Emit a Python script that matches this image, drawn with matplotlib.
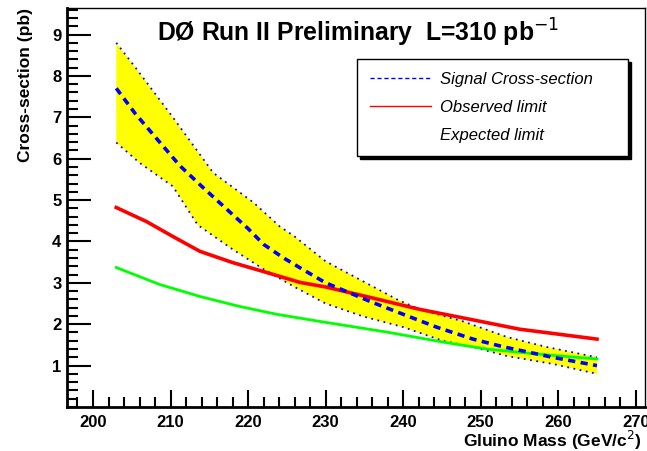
import matplotlib
matplotlib.use('Agg')
import matplotlib.pyplot as plt
from matplotlib.lines import Line2D
from matplotlib.ticker import MultipleLocator

plt.rcParams['font.family'] = ['Liberation Sans', 'DejaVu Sans']

# Signal cross-section and its uncertainty band
sig_mass = [203, 205.4, 208, 211.2, 214.2, 217.3, 220, 222, 224.5, 227, 230,
            236, 240, 244.3, 249, 253, 259.3, 265]
sig_xsec = [7.7, 7.1, 6.53, 5.83, 5.3, 4.77, 4.31, 3.93, 3.61, 3.33, 3.0,
            2.53, 2.24, 1.93, 1.64, 1.45, 1.2, 1.0]

band_mass = [203, 205.4, 210.3, 215.5, 220.7, 224.1, 226, 230, 234.8, 239.2,
             242.1, 247.7, 253.4, 258.5, 265]
band_upper = [8.8, 8.22, 7.0, 5.66, 4.94, 4.36, 4.12, 3.52, 3.04, 2.6,
              2.36, 2.07, 1.69, 1.45, 1.2]

low_mass = [203, 206, 210.3, 213.5, 218, 222, 225.8, 230, 234.8, 240, 245.1,
            249, 253.4, 259.3, 265]
band_lower = [6.39, 5.9, 5.33, 4.4, 3.81, 3.33, 2.92, 2.5, 2.19, 1.93, 1.6,
              1.45, 1.23, 1.04, 0.8]

# Observed and expected limits
obs_mass = [203, 206.9, 210.3, 213.8, 218, 222.4, 226.7, 230, 235.7, 242.1,
            248.6, 255, 265]
obs_limit = [4.82, 4.48, 4.12, 3.76, 3.49, 3.25, 3.01, 2.9, 2.65, 2.36,
             2.12, 1.88, 1.64]

exp_mass = [203, 208.6, 213.8, 218.9, 223.7, 229.5, 237.9, 245.1, 250.8,
            257.2, 265]
exp_limit = [3.37, 2.96, 2.67, 2.43, 2.24, 2.06, 1.81, 1.57, 1.4, 1.28, 1.16]

fig = plt.figure(figsize=(6.47, 4.51), dpi=100)
ax = fig.add_axes([0.1036, 0.0976, 0.8934, 0.8846])

# yellow band: polygon from upper edge and reversed lower edge
poly_x = band_mass + low_mass[::-1]
poly_y = band_upper + band_lower[::-1]
ax.fill(poly_x, poly_y, color='#ffff00', lw=0, zorder=1)
ax.plot(band_mass, band_upper, color='#0000ff', lw=1.3, ls=(0, (1, 2.5)), zorder=2)
ax.plot(low_mass, band_lower, color='#0000ff', lw=1.3, ls=(0, (1, 2.5)), zorder=2)

ax.plot(exp_mass, exp_limit, color='#00ff00', lw=2, zorder=3)
ax.plot(obs_mass, obs_limit, color='#ff0000', lw=2.6, zorder=4)
ax.plot(sig_mass, sig_xsec, color='#0000ff', lw=2.6, ls=(0, (2, 1.5)), zorder=5)

ax.set_xlim(196.65, 271.2)
ax.set_ylim(0, 9.64)
ax.xaxis.set_major_locator(MultipleLocator(10))
ax.xaxis.set_minor_locator(MultipleLocator(2))
ax.yaxis.set_major_locator(MultipleLocator(1))
ax.yaxis.set_minor_locator(MultipleLocator(0.2))
ax.set_yticks([1, 2, 3, 4, 5, 6, 7, 8, 9])
ax.tick_params(which='both', direction='in', top=False, right=False, width=1.5)
ax.tick_params(axis='y', which='major', length=17, labelsize=12, pad=4)
ax.tick_params(axis='y', which='minor', length=8)
ax.tick_params(axis='x', which='major', length=12, labelsize=12, pad=6)
ax.tick_params(axis='x', which='minor', length=7)
for lab in ax.get_xticklabels() + ax.get_yticklabels():
    lab.set_fontweight('bold')

ax.spines['left'].set_linewidth(2)
ax.spines['bottom'].set_linewidth(2)
ax.spines['top'].set_linewidth(1)
ax.spines['right'].set_linewidth(1)

ax.set_ylabel('Cross-section (pb)', loc='top', fontsize=12.5, fontweight='bold', labelpad=14)
ax.set_xlabel('Gluino Mass (GeV/c$^2$)', loc='right', fontsize=12.5, fontweight='bold', labelpad=0)
ax.xaxis.set_label_coords(0.994, -0.055)

ax.text(0.503, 0.937, 'DØ Run II Preliminary  L=310 pb$^{-1}$', transform=ax.transAxes,
        ha='center', va='center', fontsize=17.8, fontweight='bold')

handles = [Line2D([], [], color='#0000ff', lw=1, ls=(0, (3, 2))),
           Line2D([], [], color='#ff0000', lw=1),
           Line2D([], [], color='none', lw=1)]
labels = ['Signal Cross-section', 'Observed limit', 'Expected limit']
leg = ax.legend(handles, labels, loc='upper left', bbox_to_anchor=(0.502, 0.622, 0.469, 0.25),
                mode='expand', fancybox=False, edgecolor='black', framealpha=1,
                shadow={'color': 'black', 'alpha': 1}, prop={'style': 'italic', 'size': 12},
                handlelength=3.7, handletextpad=0.5, labelspacing=0.8, borderpad=0.75,
                borderaxespad=0)
leg.get_frame().set_linewidth(1)

fig.savefig('out.png', dpi=100)
